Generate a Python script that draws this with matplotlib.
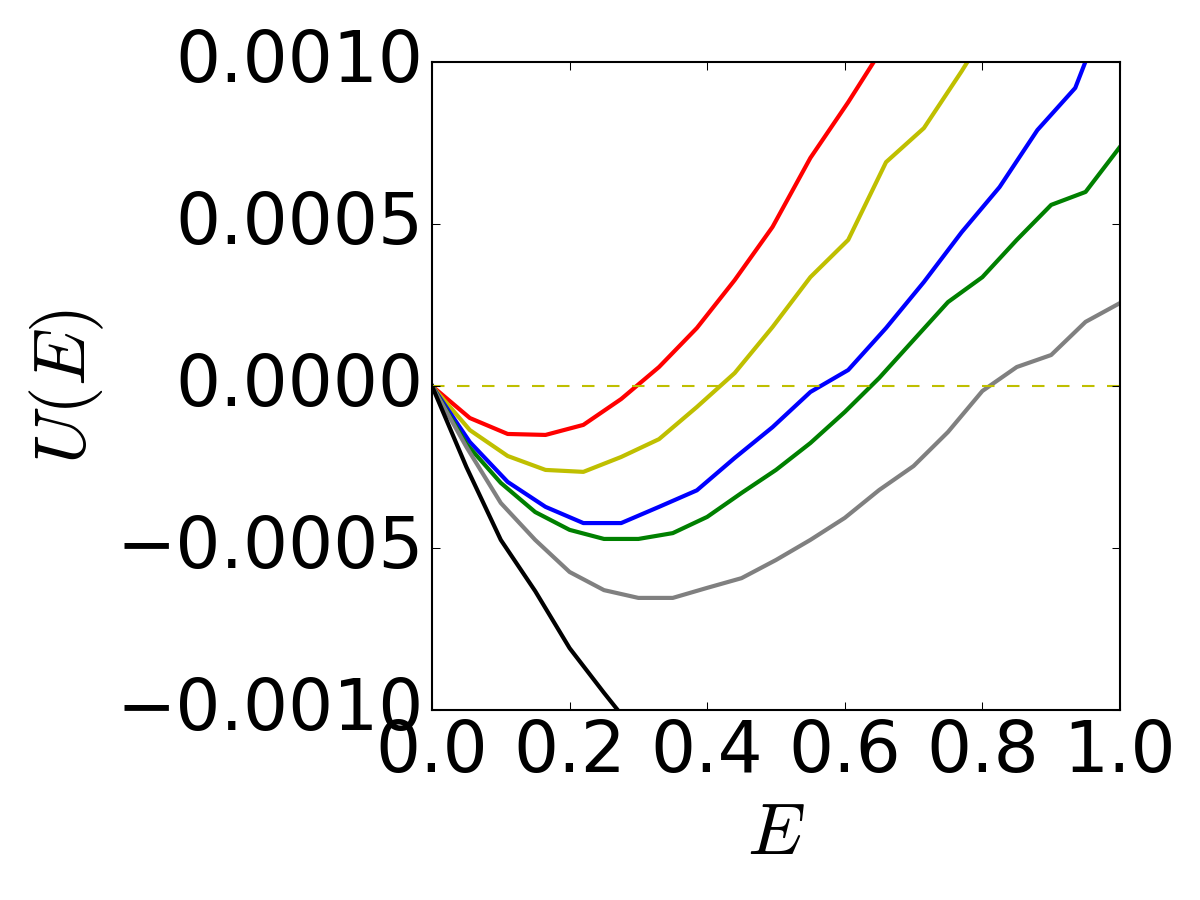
import numpy as np
import matplotlib
matplotlib.use("Agg")
import matplotlib.pyplot as plt

plt.style.use("classic")
plt.rcParams["mathtext.fontset"] = "cm"

# sampling grids
e_fine = [0.0, 0.055, 0.11, 0.165, 0.22, 0.275, 0.33, 0.385, 0.44, 0.495,
          0.55, 0.605, 0.66, 0.715, 0.77, 0.825, 0.88, 0.935, 0.99]
e_coarse = [0.0, 0.05, 0.1, 0.15, 0.2, 0.25, 0.3, 0.35, 0.4, 0.45, 0.5,
            0.55, 0.6, 0.65, 0.7, 0.75, 0.8, 0.85, 0.9, 0.95, 1.0]

u_red = [0.0, -0.0000988, -0.000148, -0.000151, -0.000120, -0.0000401,
         0.0000586, 0.000179, 0.000327, 0.000491, 0.000704, 0.000876, 0.00106]
u_yellow = [0.0, -0.000136, -0.000216, -0.000259, -0.000265, -0.000219,
            -0.000164, -0.0000648, 0.0000401, 0.000182, 0.000336, 0.000451,
            0.000691, 0.000796, 0.000972, 0.00116]
u_blue = [0.0, -0.000173, -0.000296, -0.000373, -0.000423, -0.000423,
          -0.000373, -0.000322, -0.000222, -0.000127, -0.0000185, 0.0000494,
          0.000179, 0.000321, 0.000475, 0.000614, 0.000790, 0.000920, 0.00122]
u_green = [0.0, -0.000179, -0.000299, -0.000389, -0.000444, -0.000472,
           -0.000472, -0.000454, -0.000404, -0.000330, -0.000259, -0.000176,
           -0.0000802, 0.0000247, 0.000142, 0.000259, 0.000336, 0.000451,
           0.000559, 0.000599, 0.000738]
u_gray = [0.0, -0.000188, -0.000361, -0.000475, -0.000574, -0.000630,
          -0.000654, -0.000654, -0.000623, -0.000593, -0.000537, -0.000475,
          -0.000407, -0.000321, -0.000247, -0.000142, -0.0000154, 0.0000586,
          0.0000957, 0.000198, 0.000256]
u_black = [0.0, -0.000250, -0.000475, -0.000633, -0.000809, -0.000947, -0.00108]

fig = plt.figure(figsize=(8, 6), dpi=150)
ax = fig.add_axes([0.36, 0.2111, 0.5733, 0.72])

ax.plot(e_fine[:len(u_red)], u_red, color="r", lw=2)
ax.plot(e_fine[:len(u_yellow)], u_yellow, color="y", lw=2)
ax.plot(e_fine[:len(u_blue)], u_blue, color="b", lw=2)
ax.plot(e_coarse[:len(u_green)], u_green, color="g", lw=2)
ax.plot(e_coarse[:len(u_gray)], u_gray, color="gray", lw=2)
ax.plot(e_coarse[:len(u_black)], u_black, color="k", lw=2)
ax.axhline(0, color="y", ls="--", lw=1)

ax.set_xlim(0, 1)
ax.set_ylim(-0.001, 0.001)
ax.set_xticks([0.0, 0.2, 0.4, 0.6, 0.8, 1.0])
ax.set_yticks([-0.001, -0.0005, 0.0, 0.0005, 0.001])
ax.set_yticklabels(["\u22120.0010", "\u22120.0005", "0.0000", "0.0005", "0.0010"])
ax.set_xticklabels(["0.0", "0.2", "0.4", "0.6", "0.8", "1.0"])
ax.tick_params(labelsize=34)
ax.set_xlabel(r"$E$", fontsize=35)
ax.set_ylabel(r"$U(E)$", fontsize=35)

fig.savefig("out.png", dpi=150)
